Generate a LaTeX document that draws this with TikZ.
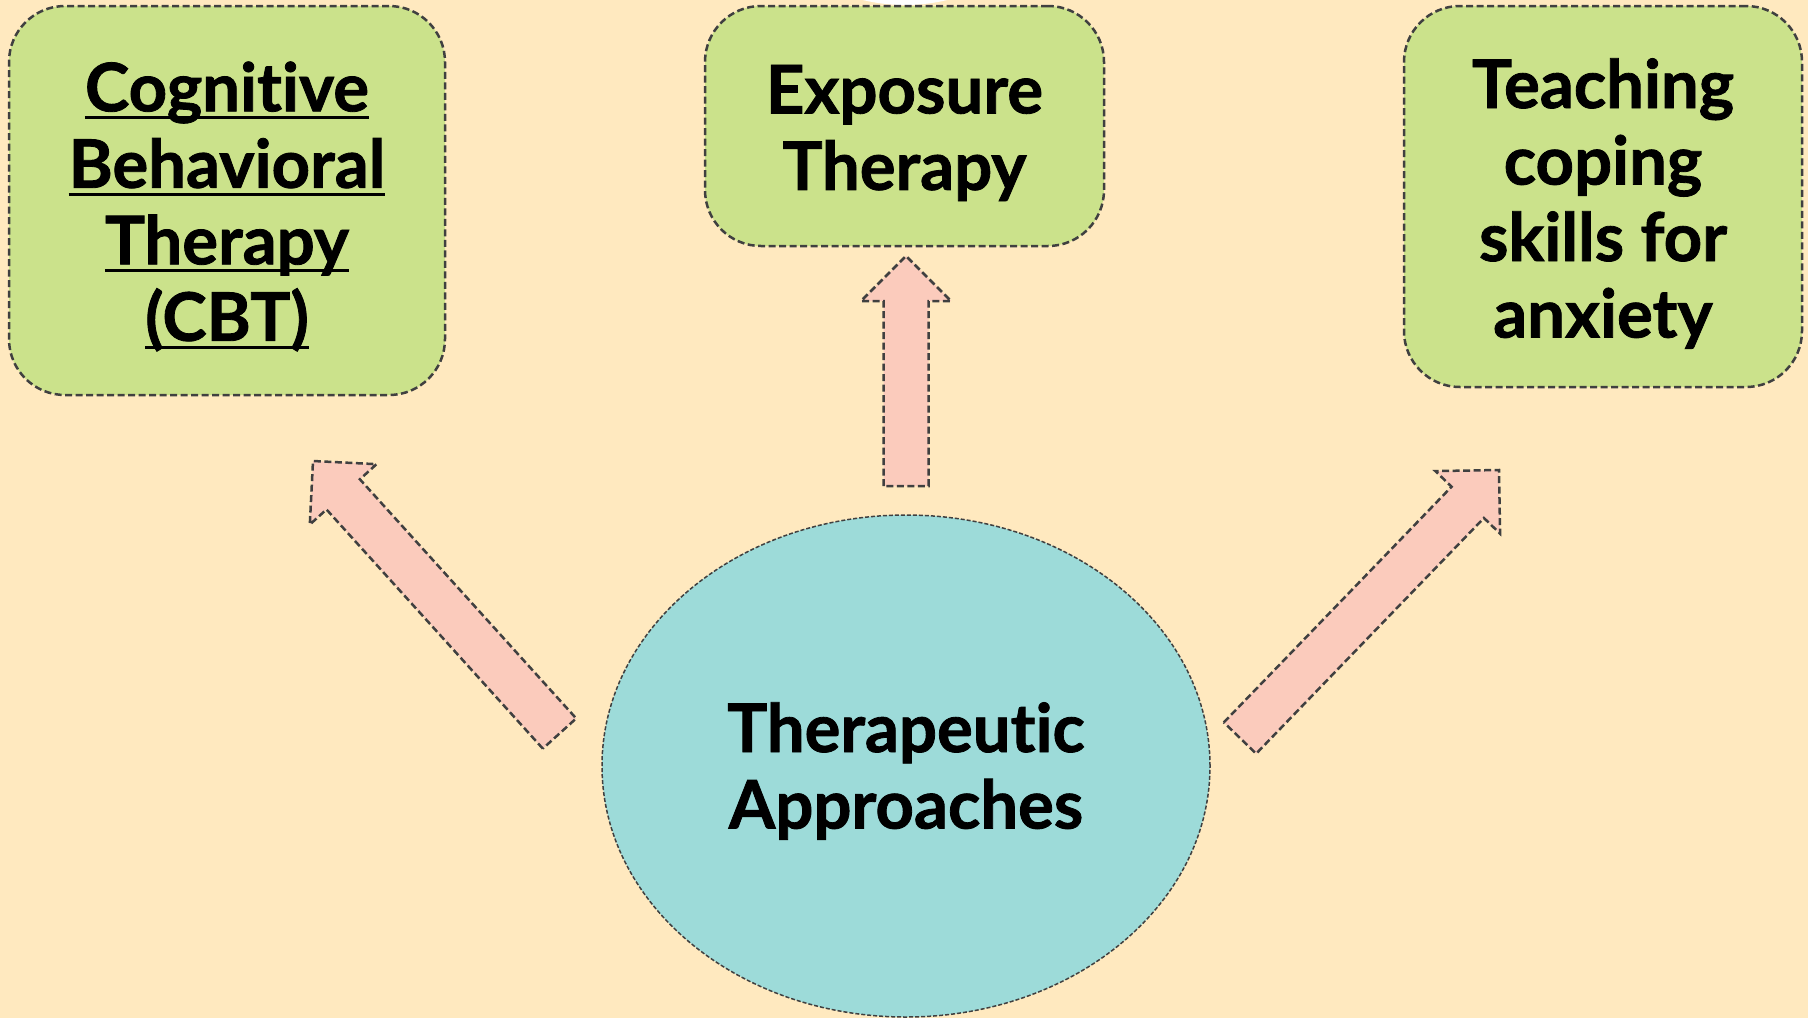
\documentclass[tikz,border=0pt]{standalone}
\usepackage{fontspec}
\setmainfont{Lato}[Ligatures=NoCommon, BoldFeatures={FakeBold=1.2}]
\usetikzlibrary{calc,shapes.geometric}
\definecolor{bgc}{HTML}{FFE9BF}
\definecolor{boxc}{HTML}{CBE28B}
\definecolor{circc}{HTML}{9DDBD9}
\definecolor{arrc}{HTML}{FBCBBC}
\definecolor{edgec}{HTML}{404040}
\newcommand\ulx[1]{\setbox0\hbox{#1}\makebox[0pt][l]{\rule[-8pt]{\wd0}{3pt}}\box0}
\newcommand\blockarrow[2]{%
  \path ($(#2)!45pt!(#1)$) coordinate (h);
  \draw[arrowstyle]
    ($(#1)!22.5pt!90:(#2)$) --
    ($(h)!22.5pt!90:(#2)$) --
    ($(h)!45pt!90:(#2)$) --
    (#2) --
    ($(h)!45pt!-90:(#2)$) --
    ($(h)!22.5pt!-90:(#2)$) --
    ($(#1)!22.5pt!-90:(#2)$) -- cycle;
}
\begin{document}
\begin{tikzpicture}[x=1pt,y=-1pt,
  txt/.style={font=\fontsize{67}{76.5}\selectfont\bfseries, align=center, text=black, inner sep=0pt},
  greenbox/.style={draw=edgec, line width=2.5pt, dash pattern=on 7pt off 3.5pt,
    fill=boxc, rounded corners=56pt, inner sep=0pt},
  arrowstyle/.style={draw=edgec, line width=2.5pt, dash pattern=on 7pt off 3.5pt,
    fill=arrc, line join=miter}]
\useasboundingbox (0,0) rectangle (1808,1018);
\fill[bgc] (0,0) rectangle (1808,1018);
\begin{scope}
\clip (0,0) rectangle (1808,1018);
\fill[white] (905,-174) circle[radius=179];
\end{scope}
% boxes
\node[greenbox, minimum width=436pt, minimum height=389pt] (cbt) at (227,200.5) {};
\node[txt] (cbtt) at ($(cbt)+(0,6)$)
  {\ulx{Cognitive}\\\ulx{Behavioral}\\\ulx{Therapy}\\\ulx{(CBT)}};
\node[greenbox, minimum width=399pt, minimum height=240pt] (exp) at (904.5,126) {};
\node[txt] (expt) at ($(exp)+(0,7)$) {Exposure\\Therapy};
\node[greenbox, minimum width=398pt, minimum height=381pt] (cop) at (1603,196.5) {};
\node[txt] (copt) at ($(cop)+(0,7)$) {Teaching\\coping\\skills for\\anxiety};
% centre
\node[ellipse, draw=edgec, line width=1.5pt, dash pattern=on 4pt off 2pt,
  fill=circc, minimum width=608pt, minimum height=502pt, inner sep=0pt] (ther) at (906,766) {};
\node[txt] (thert) at ($(ther)+(0,5)$) {Therapeutic\\Approaches};
% arrow end points
\coordinate (upT) at (906,486);
\coordinate (upP) at (906,256);
\coordinate (lT) at (559.5,733.5);
\coordinate (lP) at (313,461);
\coordinate (rT) at (1240,738);
\coordinate (rP) at (1499,470);
\blockarrow{upT}{upP}
\blockarrow{lT}{lP}
\blockarrow{rT}{rP}
\end{tikzpicture}
\end{document}
